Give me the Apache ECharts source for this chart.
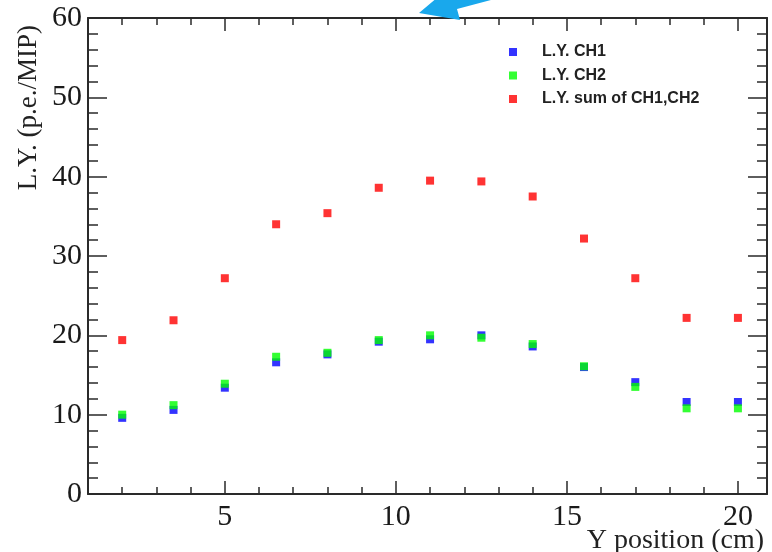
<!DOCTYPE html>
<html>
<head>
<meta charset="utf-8">
<script src="https://cdn.jsdelivr.net/npm/echarts@6/dist/echarts.min.js"></script>
<style>
html,body{margin:0;padding:0;background:#fff;}
#chart{width:772px;height:552px;}
</style>
</head>
<body>
<div id="chart"></div>
<script>
// ---- data ----
const positions = [2, 3.5, 5, 6.5, 8, 9.5, 11, 12.5, 14, 15.5, 17, 18.5, 20];
const ch1 = [9.6, 10.6, 13.4, 16.6, 17.6, 19.2, 19.5, 20.0, 18.6, 16.0, 14.1, 11.6, 11.6];
const ch2 = [10.0, 11.2, 13.9, 17.3, 17.8, 19.4, 20.0, 19.7, 18.9, 16.1, 13.5, 10.8, 10.8];
const sum = [19.4, 21.9, 27.2, 34.0, 35.4, 38.6, 39.5, 39.4, 37.5, 32.2, 27.2, 22.2, 22.2];
const seriesNames = ['L.Y. CH1', 'L.Y. CH2', 'L.Y. sum of CH1,CH2'];
const xMajor = [5, 10, 15, 20];
const xMinor = [2, 3, 4, 6, 7, 8, 9, 11, 12, 13, 14, 16, 17, 18, 19, 20];
const xTitle = 'Y position (cm)';
const yTitle = 'L.Y. (p.e./MIP)';

const pair = ys => positions.map((x, i) => [x, ys[i]]);
const serif = '"Liberation Serif", "DejaVu Serif", serif';
const axisColor = '#2a2a2a';

function xAx(pos, vals, len, line, label) {
  return {
    type: 'value', position: pos, min: 1, max: 20.85,
    axisLine: {show: line, onZero: false, lineStyle: {color: axisColor, width: 2}},
    axisTick: {show: true, inside: true, length: len, customValues: vals, lineStyle: {color: axisColor, width: 1.5}},
    axisLabel: {show: label, customValues: xMajor, fontFamily: serif, fontSize: 30, color: '#1a1a1a', margin: 8},
    splitLine: {show: false}
  };
}
function yAx(pos, label) {
  return {
    type: 'value', position: pos, min: 0, max: 60, interval: 10,
    axisLine: {show: true, onZero: false, lineStyle: {color: axisColor, width: 2}},
    axisTick: {show: true, inside: true, length: 19, lineStyle: {color: axisColor, width: 1.5}},
    minorTick: {show: true, splitNumber: 5, length: 10, lineStyle: {color: axisColor, width: 1.5}},
    axisLabel: {show: label, fontFamily: serif, fontSize: 30, color: '#1a1a1a', margin: 6},
    splitLine: {show: false}
  };
}

// annotation arrow (cyan, partly cut off at the top edge)
const arrowPts = [[419, 13], [460, 20], [457, 9], [555, -17], [552, -29], [454, -3], [451, -14]];

const chart = echarts.init(document.getElementById('chart'), null, {renderer: 'canvas'});
chart.setOption({
  animation: false,
  backgroundColor: '#ffffff',
  grid: {left: 88, right: 5, top: 18, bottom: 58},
  legend: {
    orient: 'vertical', left: 504, top: 39,
    icon: 'rect', itemWidth: 8, itemHeight: 8, itemGap: 7.5,
    data: seriesNames,
    textStyle: {fontFamily: '"Liberation Sans", Arial, sans-serif', fontWeight: 'bold', fontSize: 16, color: '#222', lineHeight: 16, padding: [0, 0, 0, 20]}
  },
  xAxis: [
    xAx('bottom', xMajor, 13, true, true),
    xAx('bottom', xMinor, 7, false, false),
    xAx('top', xMajor, 13, true, false),
    xAx('top', xMinor, 7, false, false)
  ],
  yAxis: [yAx('left', true), yAx('right', false)],
  series: [
    {name: seriesNames[0], type: 'scatter', symbol: 'rect', symbolSize: 8, itemStyle: {color: '#0000ff'}, data: pair(ch1), z: 2},
    {name: seriesNames[1], type: 'scatter', symbol: 'rect', symbolSize: 8, itemStyle: {color: '#00ff00'}, data: pair(ch2), z: 3},
    {name: seriesNames[2], type: 'scatter', symbol: 'rect', symbolSize: 8, itemStyle: {color: '#ff0000'}, data: pair(sum), z: 4}
  ],
  graphic: [
    {type: 'text', x: 29, y: 25, rotation: Math.PI / 2,
     style: {text: yTitle, fontFamily: serif, fontSize: 27, fill: '#222', align: 'right', verticalAlign: 'middle'}},
    {type: 'text', x: 764, y: 541,
     style: {text: xTitle, fontFamily: serif, fontSize: 28, fill: '#222', align: 'right', verticalAlign: 'middle'}},
    {type: 'polygon', z: 100, shape: {points: arrowPts}, style: {fill: '#19a8ec'}}
  ]
});
</script>
</body>
</html>
